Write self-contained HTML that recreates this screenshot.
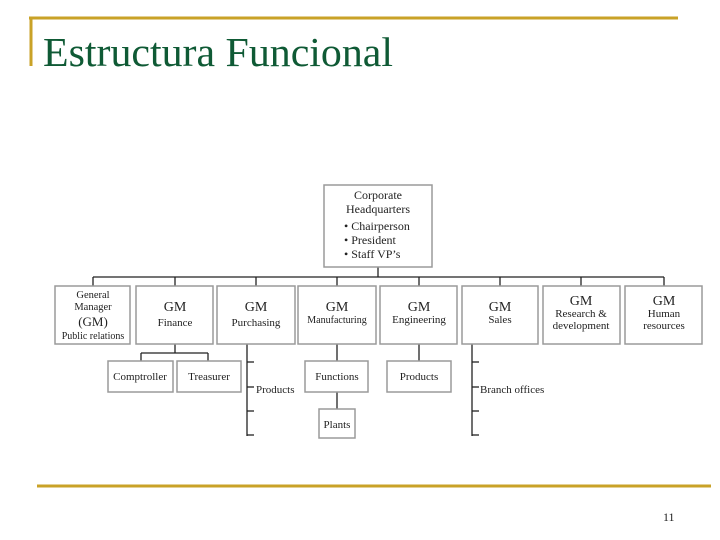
<!DOCTYPE html>
<html><head><meta charset="utf-8"><style>
html,body{margin:0;padding:0;background:#fff;}
svg{display:block;}
text{font-family:"Liberation Serif",serif;fill:#222;}
.b{fill:#fff;stroke:#9a9a9a;stroke-width:1.5;}
.l{stroke:#222;stroke-width:1.3;fill:none;}
</style></head><body>
<svg width="720" height="540" viewBox="0 0 720 540" xmlns="http://www.w3.org/2000/svg">
<line x1="29" y1="18" x2="678" y2="18" stroke="#c9a227" stroke-width="3"/>
<line x1="31" y1="17" x2="31" y2="66" stroke="#c9a227" stroke-width="3"/>
<text x="43" y="66" textLength="350" lengthAdjust="spacingAndGlyphs" style="font-size:41px;fill:#0f5a35">Estructura Funcional</text>
<line x1="37" y1="486" x2="711" y2="486" stroke="#c9a227" stroke-width="3"/>
<text x="663" y="521" style="font-size:12px">11</text>

<g class="l">
<line x1="378" y1="267" x2="378" y2="277"/>
<line x1="93" y1="277" x2="664" y2="277"/>
<line x1="93" y1="277" x2="93" y2="286"/>
<line x1="175" y1="277" x2="175" y2="286"/>
<line x1="256" y1="277" x2="256" y2="286"/>
<line x1="337" y1="277" x2="337" y2="286"/>
<line x1="419" y1="277" x2="419" y2="286"/>
<line x1="500" y1="277" x2="500" y2="286"/>
<line x1="581" y1="277" x2="581" y2="286"/>
<line x1="664" y1="277" x2="664" y2="286"/>
<line x1="175" y1="344" x2="175" y2="353"/>
<line x1="141" y1="353" x2="208" y2="353"/>
<line x1="141" y1="353" x2="141" y2="361"/>
<line x1="208" y1="353" x2="208" y2="361"/>
<line x1="247" y1="344" x2="247" y2="436"/>
<line x1="247" y1="362" x2="254" y2="362"/>
<line x1="247" y1="387" x2="254" y2="387"/>
<line x1="247" y1="411" x2="254" y2="411"/>
<line x1="247" y1="435" x2="254" y2="435"/>
<line x1="337" y1="344" x2="337" y2="361"/>
<line x1="337" y1="392" x2="337" y2="409"/>
<line x1="419" y1="344" x2="419" y2="361"/>
<line x1="472" y1="344" x2="472" y2="436"/>
<line x1="472" y1="362" x2="479" y2="362"/>
<line x1="472" y1="387" x2="479" y2="387"/>
<line x1="472" y1="411" x2="479" y2="411"/>
<line x1="472" y1="435" x2="479" y2="435"/>
</g>

<rect class="b" x="324" y="185" width="108" height="82"/>
<g style="font-size:12px">
<text x="378" y="199" text-anchor="middle">Corporate</text>
<text x="378" y="213" text-anchor="middle">Headquarters</text>
<text x="344" y="230">• Chairperson</text>
<text x="344" y="244">• President</text>
<text x="344" y="258">• Staff VP’s</text>
</g>

<g>
<rect class="b" x="55" y="286" width="75" height="58"/>
<rect class="b" x="136" y="286" width="77" height="58"/>
<rect class="b" x="217" y="286" width="78" height="58"/>
<rect class="b" x="298" y="286" width="78" height="58"/>
<rect class="b" x="380" y="286" width="77" height="58"/>
<rect class="b" x="462" y="286" width="76" height="58"/>
<rect class="b" x="543" y="286" width="77" height="58"/>
<rect class="b" x="625" y="286" width="77" height="58"/>
</g>
<g text-anchor="middle">
<text x="93" y="298" style="font-size:10.5px">General</text>
<text x="93" y="310" style="font-size:10.5px">Manager</text>
<text x="93" y="326" style="font-size:13px">(GM)</text>
<text x="93" y="339" style="font-size:10px">Public relations</text>
<text x="175" y="311" style="font-size:14px">GM</text>
<text x="175" y="326" style="font-size:11px">Finance</text>
<text x="256" y="311" style="font-size:14px">GM</text>
<text x="256" y="326" style="font-size:11px">Purchasing</text>
<text x="337" y="311" style="font-size:14px">GM</text>
<text x="337" y="323" style="font-size:10px">Manufacturing</text>
<text x="419" y="311" style="font-size:14px">GM</text>
<text x="419" y="323" style="font-size:11px">Engineering</text>
<text x="500" y="311" style="font-size:14px">GM</text>
<text x="500" y="323" style="font-size:11px">Sales</text>
<text x="581" y="305" style="font-size:14px">GM</text>
<text x="581" y="317" style="font-size:11px">Research &amp;</text>
<text x="581" y="329" style="font-size:11px">development</text>
<text x="664" y="305" style="font-size:14px">GM</text>
<text x="664" y="317" style="font-size:11px">Human</text>
<text x="664" y="329" style="font-size:11px">resources</text>
</g>

<rect class="b" x="108" y="361" width="65" height="31"/>
<rect class="b" x="177" y="361" width="64" height="31"/>
<rect class="b" x="305" y="361" width="63" height="31"/>
<rect class="b" x="319" y="409" width="36" height="29"/>
<rect class="b" x="387" y="361" width="64" height="31"/>
<g text-anchor="middle" style="font-size:11px">
<text x="140" y="380">Comptroller</text>
<text x="209" y="380">Treasurer</text>
<text x="337" y="380">Functions</text>
<text x="337" y="428">Plants</text>
<text x="419" y="380">Products</text>
</g>
<text x="256" y="393" style="font-size:11px">Products</text>
<text x="480" y="393" style="font-size:11px">Branch offices</text>
</svg>
</body></html>
